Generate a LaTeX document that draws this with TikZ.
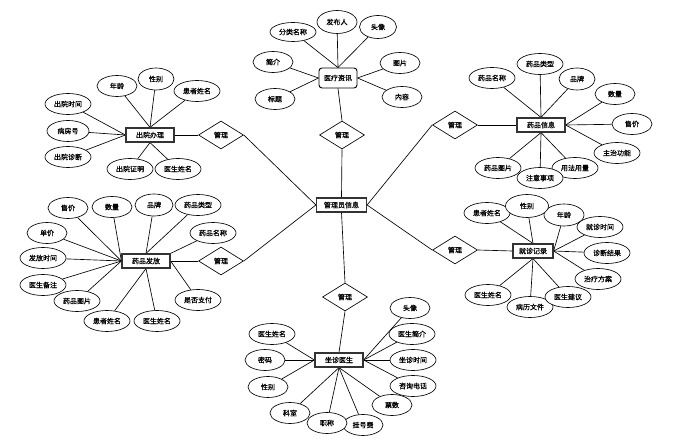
\documentclass[tikz,border=0pt]{standalone}
\usepackage{fontspec}
\newfontfamily\cjk[FakeBold=0.6]{Noto Sans CJK SC}
\usetikzlibrary{shapes.geometric,backgrounds}
\begin{document}
\begin{tikzpicture}[x=1pt,y=-1pt,
  every node/.style={font=\cjk\fontsize{7}{8}\selectfont},
  attr/.style={ellipse,draw,fill=white,inner sep=0pt,minimum width=40pt,minimum height=21pt,line width=0.65pt},
  wattr/.style={attr,minimum width=46pt},
  ent/.style={rectangle,draw=black!80,line width=1.2pt,fill=white,minimum width=48pt,minimum height=14pt,inner sep=0pt},
  rel/.style={diamond,draw,fill=white,inner sep=0pt,minimum width=45pt,minimum height=28pt,line width=0.65pt},
  link/.style={draw,line width=0.65pt}]
\useasboundingbox (0,0) rectangle (699,446);

% centre
\node[ent,minimum width=50pt] (admin) at (341.5,205) {管理员信息};

% relationships
\node[rel] (r1) at (221,135) {管理};
\node[rel] (r2) at (342,135) {管理};
\node[rel] (r3) at (455,125) {管理};
\node[rel] (r4) at (455,250) {管理};
\node[rel] (r5) at (221,261) {管理};
\node[rel] (r6) at (345,297) {管理};

% entities
\node[ent] (cy) at (150,135) {出院办理};
\node[ent,rounded corners=3pt,minimum width=38pt,minimum height=20pt,line width=0.9pt,draw=black] (yl) at (338,78) {医疗资讯};
\node[ent] (yp) at (541,125) {药品信息};
\node[ent,minimum width=40pt] (jz) at (533,251) {就诊记录};
\node[ent] (ff) at (146,261) {药品发放};
\node[ent] (zz) at (339,360) {坐诊医生};

% 医疗资讯 attributes
\node[wattr,minimum height=19pt] (a1) at (293,32) {分类名称};
\node[attr,minimum height=23pt] (a2) at (337,22) {发布人};
\node[attr,minimum width=37pt,minimum height=23pt] (a3) at (378,27) {头像};
\node[attr] (a4) at (273,62) {简介};
\node[attr] (a5) at (400,63) {图片};
\node[attr] (a6) at (275,99) {标题};
\node[attr] (a7) at (402,97) {内容};

% 药品信息 attributes
\node[wattr] (b1) at (492,78) {药品名称};
\node[wattr] (b2) at (540,64) {药品类型};
\node[attr,minimum width=36pt,minimum height=22pt] (b3) at (577,79) {品牌};
\node[attr] (b4) at (615,94) {数量};
\node[attr] (b5) at (632,124) {售价};
\node[wattr] (b6) at (617,153) {主治功能};
\node[wattr] (b9) at (498,168) {药品图片};
\node[wattr] (b7) at (575,168) {用法用量};
\node[wattr] (b8) at (540,178) {注意事项};

% 出院办理 attributes
\node[attr] (c1) at (117,86) {年龄};
\node[attr,minimum width=36pt,minimum height=22pt] (c2) at (156,79) {性别};
\node[wattr] (c3) at (197,91) {患者姓名};
\node[wattr] (c4) at (68,104) {出院时间};
\node[attr,minimum width=42pt] (c5) at (68,131) {病房号};
\node[wattr] (c6) at (68,157) {出院诊断};
\node[wattr] (c7) at (130,169) {出院证明};
\node[wattr] (c8) at (178,169) {医生姓名};

% 药品发放 attributes
\node[attr] (d1) at (68,208) {售价};
\node[attr] (d2) at (112,207) {数量};
\node[attr,minimum width=38pt,minimum height=22pt] (d3) at (154,205) {品牌};
\node[wattr] (d4) at (198,205) {药品类型};
\node[wattr] (d5) at (213,233) {药品名称};
\node[attr] (d6) at (47,233) {单价};
\node[wattr] (d7) at (43,258) {发放时间};
\node[wattr] (d8) at (43,285) {医生备注};
\node[wattr] (d9) at (77,301) {药品图片};
\node[wattr] (d10) at (107,321) {患者姓名};
\node[wattr] (d11) at (157,321) {医生姓名};
\node[wattr] (d12) at (198,300) {是否支付};

% 就诊记录 attributes
\node[wattr] (e1) at (487,213) {患者姓名};
\node[attr,minimum height=22pt] (e3) at (564,215) {年龄};
\node[attr,minimum width=43pt,minimum height=23pt] (e2) at (527,206) {性别};
\node[wattr] (e4) at (600,227) {就诊时间};
\node[wattr] (e5) at (607,253) {诊断结果};
\node[wattr] (e6) at (598,279) {治疗方案};
\node[wattr] (e9) at (488,295) {医生姓名};
\node[wattr] (e8) at (530,307) {病历文件};
\node[wattr] (e7) at (568,297) {医生建议};

% 坐诊医生 attributes
\node[attr] (f1) at (410,308) {头像};
\node[wattr] (f2) at (412,334) {医生简介};
\node[wattr] (f3) at (413,360) {坐诊时间};
\node[wattr] (f4) at (413,386) {咨询电话};
\node[attr] (f5) at (392,405) {票数};
\node[attr] (f6) at (363,425) {挂号费};
\node[attr] (f8) at (290,413) {科室};
\node[attr] (f7) at (327,423) {职称};
\node[attr] (f9) at (268,387) {性别};
\node[attr] (f10) at (265,360) {密码};
\node[wattr] (f11) at (272,334) {医生姓名};

\begin{pgfonlayer}{background}
% centre links
\path[link] (admin.north) -- (r2.south);
\path[link] (admin.east) -- (r3.west);
\path[link] (admin.east) -- (r4.west);
\path[link] (admin.south) -- (r6.north);
\path[link] (admin.west) -- (r1.east);
\path[link] (admin.west) -- (r5.east);
% relation to entity
\path[link] (r1.west) -- (cy.east);
\path[link] (r2.north) -- (yl.south);
\path[link] (r3.east) -- (yp.west);
\path[link] (r4.east) -- (jz.west);
\path[link] (r5.west) -- (ff.east);
\path[link] (r6.south) -- (zz.north);
% 医疗资讯
\foreach \n in {a1,a2,a3} \path[link] (\n) -- (yl.north);
\foreach \n in {a4,a6} \path[link] (\n) -- (yl.west);
\foreach \n in {a5,a7} \path[link] (\n) -- (yl.east);
% 药品信息
\foreach \n in {b1,b2,b3} \path[link] (\n) -- (yp.north);
\foreach \n in {b4,b5,b6} \path[link] (\n) -- (yp.east);
\foreach \n in {b7,b8,b9} \path[link] (\n) -- (yp.south);
% 出院办理
\foreach \n in {c1,c2,c3} \path[link] (\n) -- (cy.north);
\foreach \n in {c4,c5,c6} \path[link] (\n) -- (cy.west);
\foreach \n in {c7,c8} \path[link] (\n) -- (cy.south);
% 药品发放
\foreach \n in {d1,d2,d6,d7,d8,d9} \path[link] (\n) -- (ff.west);
\foreach \n in {d3,d4} \path[link] (\n) -- (ff.north);
\path[link] (d5) -- (ff.north east);
\foreach \n in {d10,d11} \path[link] (\n) -- (ff.south);
\path[link] (d12) -- (ff.east);
% 就诊记录
\foreach \n in {e1,e2} \path[link] (\n) -- (jz.north);
\foreach \n in {e3,e4,e5,e6} \path[link] (\n) -- (jz.east);
\foreach \n in {e7,e8,e9} \path[link] (\n) -- (jz.south);
% 坐诊医生
\foreach \n in {f1,f2,f3,f4} \path[link] (\n) -- (zz.east);
\foreach \n in {f5,f6,f7,f8} \path[link] (\n) -- (zz.south);
\foreach \n in {f9,f10,f11} \path[link] (\n) -- (zz.west);
\end{pgfonlayer}
\end{tikzpicture}
\end{document}
